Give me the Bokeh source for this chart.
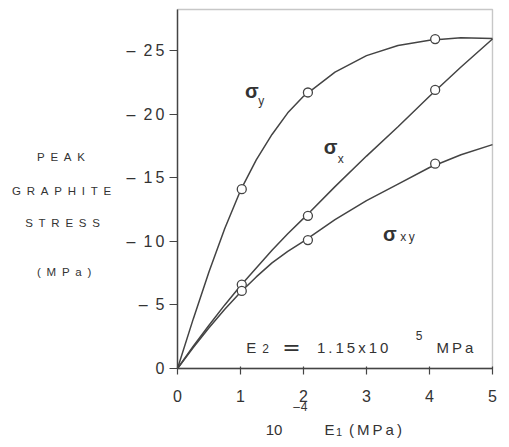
from bokeh.plotting import figure
from bokeh.models import Range1d, Label, FixedTicker, LinearAxis, BoxAnnotation
from bokeh.embed import file_html
from bokeh.resources import INLINE

# ---- data ----
e1_curve = [0, 0.25, 0.5, 0.75, 1.0, 1.25, 1.5, 1.75, 2.0, 2.5, 3.0, 3.5, 4.0, 4.5, 5.0]
sigma_y_curve = [0, -3.9, -7.6, -11.0, -14.0, -16.4, -18.4, -20.1, -21.4, -23.3, -24.6, -25.4, -25.8, -26.0, -25.95]
sigma_x_curve = [0, -1.75, -3.4, -5.0, -6.5, -7.9, -9.3, -10.6, -11.8, -14.3, -16.7, -19.0, -21.4, -23.7, -25.9]
sigma_xy_curve = [0, -1.65, -3.2, -4.65, -6.0, -7.2, -8.3, -9.2, -10.0, -11.7, -13.2, -14.5, -15.8, -16.8, -17.6]

e1_points = [1.02, 2.07, 4.09]
sigma_y_points = [-14.1, -21.7, -25.9]
sigma_x_points = [-6.6, -12.0, -21.9]
sigma_xy_points = [-6.1, -10.1, -16.1]

x_ticks = [0, 1, 2, 3, 4, 5]
y_ticks = [0, -5, -10, -15, -20, -25]
y_tick_labels = ["0", "\u2013\u20025", "\u2013\u20021\u20090", "\u2013\u20021\u20095",
                 "\u2013\u20022\u20090", "\u2013\u20022\u20095"]

# plotting box (data extent of the drawn frame)
BOX_X = (0, 5)
BOX_Y = (0, -28.22)
# full canvas extent in data units (frame covers the whole canvas)
X_MIN, X_MAX = -2.810, 5.143
Y_BOTTOM, Y_TOP = 5.582, -28.931

FONT = "Liberation Sans"
INK = "#333333"
LINE = "#444444"

p = figure(width=501, height=439, output_backend="svg", toolbar_location=None,
           x_range=Range1d(X_MIN, X_MAX), y_range=Range1d(Y_BOTTOM, Y_TOP),
           x_axis_location=None, y_axis_location=None, min_border=0)
p.grid.visible = False
p.background_fill_color = "white"
p.border_fill_color = "white"
p.outline_line_color = None

p.add_layout(BoxAnnotation(left=BOX_X[0], right=BOX_X[1], bottom=BOX_Y[0], top=BOX_Y[1],
                           fill_alpha=0, line_color=LINE, line_width=1.4))

xaxis = LinearAxis(fixed_location=0, bounds=BOX_X, ticker=FixedTicker(ticks=x_ticks))
yaxis = LinearAxis(fixed_location=0, bounds=(BOX_Y[1], BOX_Y[0]), ticker=FixedTicker(ticks=y_ticks))
for ax in (xaxis, yaxis):
    ax.axis_line_color = LINE
    ax.axis_line_width = 1.4
    ax.major_tick_line_color = LINE
    ax.major_tick_line_width = 1.2
    ax.minor_tick_line_color = None
    ax.major_label_text_font = FONT
    ax.major_label_text_font_size = "16px"
    ax.major_label_text_color = INK
xaxis.major_tick_in = 2
xaxis.major_tick_out = 6
xaxis.major_label_standoff = 16
yaxis.major_label_overrides = {t: s for t, s in zip(y_ticks, y_tick_labels)}
yaxis.major_tick_in = 0
yaxis.major_tick_out = 8
yaxis.major_label_standoff = 5
p.add_layout(xaxis, "below")
p.add_layout(yaxis, "left")

for yc in (sigma_y_curve, sigma_x_curve, sigma_xy_curve):
    p.line(e1_curve, yc, line_color=LINE, line_width=1.5)
for yp in (sigma_y_points, sigma_x_points, sigma_xy_points):
    p.scatter(e1_points, yp, marker="circle", size=9, fill_color="white",
              line_color=LINE, line_width=1.3)


def lab(x, y, text, size, bold=False, align="center", baseline="middle", font=FONT):
    p.add_layout(Label(x=x, y=y, text=text, text_font=font, text_font_size=size,
                       text_font_style="bold" if bold else "normal",
                       text_align=align, text_baseline=baseline, text_color=INK))

# curve labels
lab(1.18, -21.8, "\u03c3", "20px", bold=True)
lab(1.33, -21.0, "y", "12px")
lab(2.43, -17.45, "\u03c3", "20px", bold=True)
lab(2.59, -16.5, "x", "12px")
lab(3.37, -10.6, "\u03c3", "20px", bold=True)
lab(3.65, -10.3, "x\u2009y", "12px")

# E2 annotation
lab(1.17, -1.651, "E", "15px", baseline="alphabetic")
lab(1.397, -1.572, "2", "12px", baseline="alphabetic")
lab(1.810, -1.651, "=", "22px", baseline="alphabetic", font="DejaVu Sans")
lab(2.214, -1.651, "1\u2009.\u20091\u20095\u2009x\u20091\u20090", "15px", align="left", baseline="alphabetic")
lab(3.833, -2.594, "5", "12px")
lab(4.111, -1.651, "M\u2009P\u2009a", "15px", align="left", baseline="alphabetic")

# y axis title (stacked lines)
sp = "\u2002"
lab(-1.85, -16.59, sp.join("PEAK"), "11.5px")
lab(-1.84, -13.99, sp.join("GRAPHITE"), "11.5px")
lab(-1.825, -11.40, sp.join("STRESS"), "11.5px")
lab(-1.80, -7.55, sp.join("(MPa)"), "11.5px")

# x axis title
lab(1.532, 4.80, "10", "15px", baseline="alphabetic")
lab(1.95, 2.99, "\u2013\u200a4", "12px")
lab(2.413, 4.80, "E", "15px", baseline="alphabetic")
lab(2.563, 5.03, "1", "11px", baseline="alphabetic")
lab(3.143, 4.80, "(\u2009M\u2009P\u2009a\u2009)", "15px", baseline="alphabetic")

open("out.html", "w").write(file_html(p, INLINE))
